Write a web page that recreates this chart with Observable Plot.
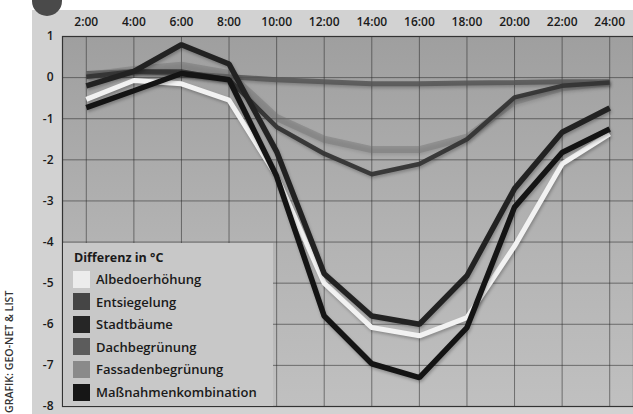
<!DOCTYPE html>
<html><head><meta charset="utf-8">
<script src="https://cdn.jsdelivr.net/npm/d3@7"></script>
<script src="https://cdn.jsdelivr.net/npm/@observablehq/plot@0.6"></script>
<style>
body{margin:0;background:#fff;font-family:"Open Sans",sans-serif;}
#wrap{position:relative;width:633px;height:414px;overflow:hidden;background:#fff;}
#panel{position:absolute;left:32px;top:10px;right:0;bottom:0;background:#d2d2d2;}
#dot{position:absolute;left:32px;top:-14px;width:30px;height:30px;border-radius:50%;background:#4a4a4a;}
#chart{position:absolute;left:0;top:0;}
#chart svg{background:transparent;}
#legend{position:absolute;left:63px;top:243px;width:210px;height:163px;background:#c8c8c8;color:#1a1a1a;}
#legend .title{position:absolute;left:11px;top:6px;font-weight:700;font-size:12.5px;}
#legend .row{position:absolute;left:10px;height:22px;display:flex;align-items:center;font-size:13px;font-weight:600;}
#legend .sw{width:17px;height:17px;margin-right:6px;}
#credit{position:absolute;left:0px;top:350px;transform-origin:0 0;transform:translate(2px,63px) rotate(-90deg);font-size:10.6px;font-weight:600;color:#333;white-space:nowrap;}
g[aria-label="line"] path{filter:drop-shadow(1px 2px 1.5px rgba(0,0,0,0.25));}
</style></head>
<body>
<div id="wrap"><div id="panel"></div><div id="dot"></div><div id="chart"></div><div id="legend"></div><div id="credit">GRAFIK: GEO-NET &amp; LIST</div></div>
<script>
const hours = [2,4,6,8,10,12,14,16,18,20,22,24];
const yTicks = [1,0,-1,-2,-3,-4,-5,-6,-7,-8];
const seriesNames = ["Albedoerhöhung","Entsiegelung","Stadtbäume","Dachbegrünung","Fassadenbegrünung","Maßnahmenkombination"];
const albedo      = [-0.53,-0.07,-0.15,-0.55,-2.4,-5.0,-6.08,-6.28,-5.84,-4.1,-2.1,-1.37];
const entsiegelung= [0.02,0.15,0.15,-0.05,-1.2,-1.85,-2.35,-2.1,-1.5,-0.48,-0.2,-0.12];
const stadtbaeume = [-0.2,0.15,0.8,0.33,-1.8,-4.77,-5.8,-6.0,-4.82,-2.7,-1.33,-0.74];
const dach        = [0.1,0.15,0.1,0.02,-0.05,-0.1,-0.15,-0.15,-0.13,-0.12,-0.1,-0.1];
const fassaden    = [0.05,0.2,0.3,0.1,-0.97,-1.5,-1.75,-1.75,-1.45,-0.58,-0.25,-0.12];
const kombi       = [-0.73,-0.32,0.1,-0.05,-2.4,-5.8,-6.96,-7.3,-6.08,-3.15,-1.82,-1.25];

const swatch = {"Albedoerhöhung":"#ececec","Entsiegelung":"#454545","Stadtbäume":"#262626","Dachbegrünung":"#5c5c5c","Fassadenbegrünung":"#8a8a8a","Maßnahmenkombination":"#161616"};
const toRows = (name, arr) => arr.map((v,i)=>({name, hour:hours[i], v}));
const drawOrder = [
  {name:"Dachbegrünung", arr:dach, stroke:"#555", w:5, op:0.85},
  {name:"Fassadenbegrünung", arr:fassaden, stroke:"#6e6e6e", w:7, op:0.4},
  {name:"Entsiegelung", arr:entsiegelung, stroke:"#343434", w:4.5, op:0.95},
  {name:"Albedoerhöhung", arr:albedo, stroke:"#f2f2f2", w:5, op:1},
  {name:"Stadtbäume", arr:stadtbaeume, stroke:"#222", w:5.5, op:1},
  {name:"Maßnahmenkombination", arr:kombi, stroke:"#141414", w:5.5, op:1}
];

const plot = Plot.plot({
  width:633, height:414,
  marginLeft:62, marginRight:0, marginTop:36, marginBottom:8,
  x:{domain:[1,25]},
  y:{domain:[-8,1]},
  style:{background:"transparent", fontFamily:"Open Sans, sans-serif"},
  marks:[
    Plot.frame({fill:"url(#plotbg)"}),
    Plot.gridX(hours,{stroke:"#2a2a2a", strokeOpacity:0.55}),
    Plot.gridY(yTicks,{stroke:"#2a2a2a", strokeOpacity:0.55}),
    ...drawOrder.map(s => Plot.line(toRows(s.name, s.arr), {x:"hour", y:"v", stroke:s.stroke, strokeWidth:s.w, strokeOpacity:s.op, strokeLinejoin:"miter", strokeLinecap:"butt"})),
    Plot.frame({stroke:"#333", strokeWidth:1.2}),
    Plot.axisX(hours,{anchor:"top", tickSize:0, tickPadding:11, tickFormat:d=>d+":00", fontSize:12, fontWeight:600, fill:"#1a1a1a", label:null}),
    Plot.axisY(yTicks,{anchor:"left", tickSize:0, tickPadding:9, fontSize:12, fontWeight:600, fill:"#1a1a1a", label:null, tickFormat:d=>String(d)})
  ]
});
const svg = d3.select(plot);
const defs = svg.insert("defs",":first-child");
const g = defs.append("linearGradient").attr("id","plotbg").attr("x1",0).attr("y1",0).attr("x2",0).attr("y2",1);
g.append("stop").attr("offset","0%").attr("stop-color","#9f9f9f");
g.append("stop").attr("offset","55%").attr("stop-color","#b3b3b3");
g.append("stop").attr("offset","100%").attr("stop-color","#c0c0c0");
document.getElementById("chart").appendChild(plot);

const leg = document.getElementById("legend");
const t = document.createElement("div"); t.className="title"; t.textContent="Differenz in °C"; leg.appendChild(t);
seriesNames.forEach((n,i)=>{
  const r=document.createElement("div"); r.className="row"; r.style.top=(25+i*22.6)+"px";
  const s=document.createElement("div"); s.className="sw"; s.style.background=swatch[n];
  const l=document.createElement("span"); l.textContent=n;
  r.appendChild(s); r.appendChild(l); leg.appendChild(r);
});
</script>
</body></html>
